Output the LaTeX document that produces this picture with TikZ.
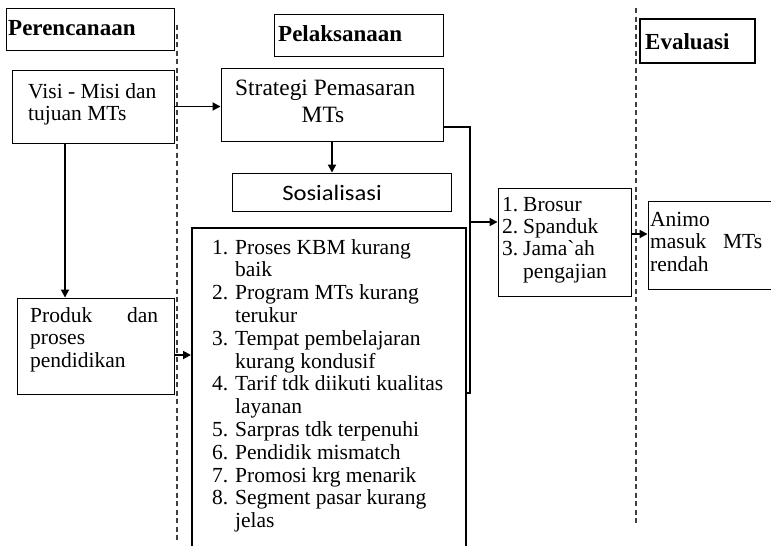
\documentclass[tikz,border=0pt]{standalone}
\usepackage{fontspec}
\setmainfont{Liberation Serif}[Ligatures=TeXOff]
\newfontfamily\sosfont{Carlito}
\usetikzlibrary{arrows.meta}
\begin{document}
\begin{tikzpicture}[x=1pt,y=-1pt,
  box/.style={draw, line width=0.9pt, inner sep=0pt},
  thickbox/.style={draw, line width=2pt, inner sep=0pt},
  txt/.style={inner sep=0pt, anchor=base west, font=\fontsize{21.5}{22.7}\selectfont},
  head/.style={inner sep=0pt, anchor=base west, font=\fontsize{23}{24}\selectfont\bfseries},
  conn/.style={line width=1.8pt},
  arr/.style={line width=1.8pt, -{Triangle[length=8pt,width=8pt]}},
  divider/.style={line width=1.3pt, black!75, dash pattern=on 5pt off 3.5pt}]
\useasboundingbox (0,0) rectangle (771,546);

% dividers
\coordinate (d1t) at (177,25);
\coordinate (d1b) at (177,542);
\coordinate (d2t) at (636,8);
\coordinate (d2b) at (636,525);
\draw[divider] (d1t) -- (d1b);
\draw[divider] (d2t) -- (d2b);

% boxes
\node[box, minimum width=168pt, minimum height=42pt] (perenc) at (90,29) {};
\node[box, minimum width=162pt, minimum height=73pt] (visi) at (93,106.5) {};
\node[box, minimum width=157pt, minimum height=96pt] (produk) at (95.5,346) {};
\node[box, minimum width=169pt, minimum height=42pt] (pelak) at (358.5,35) {};
\node[box, minimum width=222pt, minimum height=73pt] (strategi) at (332,104.5) {};
\node[box, minimum width=219pt, minimum height=38pt] (sosial) at (341.5,192) {};
\node[thickbox, minimum width=274pt, minimum height=324pt] (big) at (329,390) {};
\node[box, minimum width=133pt, minimum height=108pt] (brosur) at (564.5,242) {};
\node[thickbox, minimum width=115pt, minimum height=44pt] (evaluasi) at (697.5,41) {};
\node[box, minimum width=142pt, minimum height=88pt] (animo) at (719,245) {};

% texts
\node[head] (tperenc) at (8,35) {Perencanaan};
\node[head] (tpelak) at (278,41) {Pelaksanaan};
\node[head] (teval) at (645,49) {Evaluasi};

\node[txt] (tvisi1) at (28,98) {Visi - Misi dan};
\node[txt] (tvisi2) at (28,120) {tujuan MTs};

\node[txt] (tprod1) at (30,322) {\makebox[128pt][s]{Produk dan}};
\node[txt] (tprod2) at (30,344) {proses};
\node[txt] (tprod3) at (30,367) {pendidikan};

\node[txt, font=\fontsize{23.4}{25}\selectfont] (tstr1) at (235,95) {Strategi Pemasaran};
\node[txt, anchor=base, font=\fontsize{23.4}{25}\selectfont] (tstr2) at (323,122) {MTs};

\node[inner sep=0pt, anchor=base, font=\sosfont\fontsize{22}{24}\selectfont] (tsos) at (332,200) {\scalebox{1.12}[1]{Sosialisasi}};

\node[txt, font=\fontsize{21.5}{22.8}\selectfont] (tlist) at (212,254) {%
\begin{tabular}[t]{@{}p{23pt}@{}l@{}}
1. & Proses KBM kurang\\
   & baik\\
2. & Program MTs kurang\\
   & terukur\\
3. & Tempat pembelajaran\\
   & kurang kondusif\\
4. & Tarif tdk diikuti kualitas\\
   & layanan\\
5. & Sarpras tdk terpenuhi\\
6. & Pendidik mismatch\\
7. & Promosi krg menarik\\
8. & Segment pasar kurang\\
   & jelas
\end{tabular}};

\node[txt, font=\fontsize{21.5}{22.4}\selectfont] (tbrosur) at (502,211) {%
\begin{tabular}[t]{@{}p{21pt}@{}l@{}}
1. & Brosur\\
2. & Spanduk\\
3. & Jama`ah\\
   & pengajian
\end{tabular}};

\node[txt] (tanimo1) at (650,226) {Animo};
\node[txt] (tanimo2) at (650,248) {\makebox[112pt][s]{masuk MTs}};
\node[txt] (tanimo3) at (650,271) {rendah};

% connectors
\coordinate (vx) at (65,0);
\coordinate (py) at (0,355);
\coordinate (bt) at (470,127);
\coordinate (bb) at (470,393);
\coordinate (bm) at (470,222);
\coordinate (ay) at (0,234);

\draw[arr] (visi.east) -- (strategi.west |- visi.east);
\draw[arr] (vx |- visi.south) -- (vx |- produk.north);
\draw[arr] (py -| produk.east) -- (py -| big.west);
\draw[arr] (strategi.south) -- (strategi.south |- sosial.north);
\draw[conn] (bt -| strategi.east) -- (bt) -- (bb) -- (bb -| big.east);
\draw[arr] (bm) -- (bm -| brosur.west);
\draw[arr] (ay -| brosur.east) -- (ay -| animo.west);
\end{tikzpicture}
\end{document}
